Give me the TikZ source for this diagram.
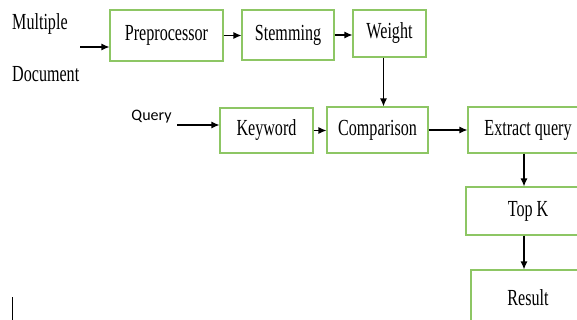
\documentclass[tikz,border=0pt]{standalone}
\usepackage{fontspec}
\setmainfont{Liberation Serif}
\newfontfamily\boxfont{Liberation Serif}
\newfontfamily\queryfont{Carlito}
\usepackage{graphicx}
\usetikzlibrary{arrows.meta}
\definecolor{boxgreen}{RGB}{141,198,100}
\newcommand{\squeezed}[1]{\scalebox{0.7}[1]{#1}}
\tikzset{
	stage/.style={draw=boxgreen, line width=1.1pt, inner sep=0pt, font=\boxfont\fontsize{23}{25}\selectfont},
	plain/.style={inner sep=0pt, font=\boxfont\fontsize{23}{25}\selectfont},
	flow/.style={-{Latex[length=8pt,width=7pt]}, line width=1.2pt},
}

\begin{document}
\begin{tikzpicture}[x=10pt,y=-10pt]
	\useasboundingbox (0,0) rectangle (57.7,32);
	\clip (0,0) rectangle (57.7,32);
	
	% inputs
	\node[plain, anchor=west] (multi) at (1.2,2.4) {\squeezed{Multiple}};
	\node[plain, anchor=west] (doc) at (1.2,7.4) {\squeezed{Document}};
	\node[inner sep=0pt, font=\queryfont\fontsize{16}{18}\selectfont] (query) at (15.15,11.7) {Query};
	\coordinate (docin) at (8,4.7);
	\coordinate (qin) at (17.7,12.5);
	
	% top row
	\node[stage, minimum width=113pt, minimum height=51pt] (pre) at (16.65,3.55) {\squeezed{Preprocessor}};
	\node[stage, minimum width=92pt, minimum height=50pt] (stem) at (28.8,3.5) {\squeezed{Stemming}};
	\node[stage, minimum width=73pt, minimum height=47pt] (wt) at (38.95,3.35) {\squeezed{Weight}};
	
	% middle row
	\node[stage, minimum width=93pt, minimum height=45pt] (key) at (26.65,13.05) {\squeezed{Keyword}};
	\node[stage, minimum width=101pt, minimum height=46pt] (cmp) at (37.75,13) {\squeezed{Comparison}};
	\node[stage, minimum width=120pt, minimum height=46pt] (ext) at (52.8,13) {\squeezed{Extract query}};
	
	% right column
	\node[stage, minimum width=124pt, minimum height=48pt] (topk) at (52.8,21.1) {\squeezed{Top K}};
	\node[stage, minimum width=114pt, minimum height=56pt] (res) at (52.8,29.8) {\squeezed{Result}};
	\coordinate (down) at (52.4,0);
	
	% connectors
	\draw[flow] (docin) -- (docin -| pre.west);
	\draw[flow] (pre.east) -- (pre.east -| stem.west);
	\draw[flow] (stem.east) -- (stem.east -| wt.west);
	\draw[flow] ([xshift=-6pt]wt.south) -- ([xshift=-6pt]wt.south |- cmp.north);
	\draw[flow] (qin) -- (qin -| key.west);
	\draw[flow] (key.east) -- (key.east -| cmp.west);
	\draw[flow] (cmp.east) -- (cmp.east -| ext.west);
	\draw[flow] (down |- ext.south) -- (down |- topk.north);
	\draw[flow] (down |- topk.south) -- (down |- res.north);
	
	% cursor mark
	\draw[line width=1pt] (1.2,29.7) -- (1.2,32);
\end{tikzpicture}
\end{document}
